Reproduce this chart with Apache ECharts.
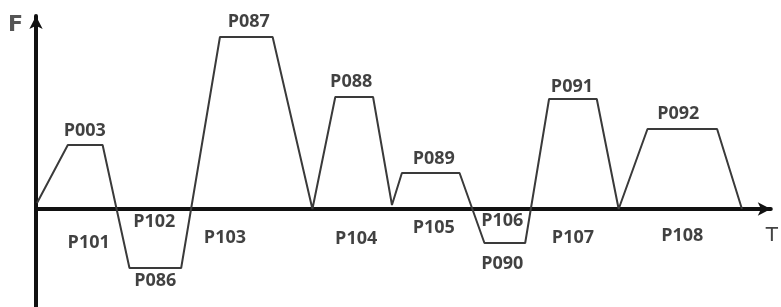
<!DOCTYPE html>
<html>
<head>
<meta charset="utf-8">
<script src="https://cdn.jsdelivr.net/npm/echarts@6/dist/echarts.min.js"></script>
<style>
  html, body { margin: 0; padding: 0; background: #fff; }
  #chart { width: 781px; height: 307px; }
</style>
</head>
<body>
<div id="chart"></div>
<script>
// feed profile vertices (T, F)
var profileT = [1, 32, 67, 94, 146, 185, 238, 278, 301, 339, 358, 368, 426, 451, 492, 516, 564, 586, 615, 685, 710];
var profileF = [6, 64, 64, -59, -59, 172, 172, 0, 112, 112, 4, 36, 36, -34, -34, 110, 110, 0, 80, 80, 0];

// segment labels and where they sit
var labelNames = ['P003', 'P101', 'P102', 'P086', 'P087', 'P088', 'P103', 'P104',
                  'P089', 'P105', 'P106', 'P090', 'P091', 'P107', 'P092', 'P108'];
var labelT = [49, 53, 119, 120, 214, 317, 190, 322, 400, 400, 469, 469, 539, 540, 646, 650];
var labelF = [78, -34, -13, -72, 187, 127, -29, -30, 50, -19, -12, -55, 122, -29, 95, -27];

var chart = echarts.init(document.getElementById('chart'));

var lineData = profileT.map(function (t, i) { return [t, profileF[i]]; });
var labelData = labelNames.map(function (n, i) { return [labelT[i], labelF[i], n]; });

var option = {
  animation: false,
  grid: { left: 36, right: 6, top: 16, bottom: 0 },
  xAxis: {
    type: 'value',
    min: 0,
    max: 739,
    name: 'T',
    nameLocation: 'end',
    nameGap: -5,
    nameTextStyle: {
      fontFamily: 'DejaVu Sans',
      fontSize: 20,
      color: '#444',
      align: 'left',
      verticalAlign: 'top',
      padding: [17, 0, 0, 0]
    },
    axisLine: {
      onZero: true,
      symbol: ['none', 'arrow'],
      symbolSize: [10, 13],
      lineStyle: { color: '#111', width: 4 }
    },
    axisTick: { show: false },
    axisLabel: { show: false },
    splitLine: { show: false }
  },
  yAxis: {
    type: 'value',
    min: -98,
    max: 193,
    name: 'F',
    nameLocation: 'end',
    nameGap: 2,
    nameTextStyle: {
      fontFamily: 'DejaVu Sans',
      fontSize: 22,
      fontWeight: 'bold',
      color: '#555',
      align: 'right',
      verticalAlign: 'top',
      padding: [0, 13, 0, 0]
    },
    axisLine: {
      show: true,
      symbol: ['none', 'arrow'],
      symbolSize: [10, 13],
      lineStyle: { color: '#111', width: 4 }
    },
    axisTick: { show: false },
    axisLabel: { show: false },
    splitLine: { show: false }
  },
  series: [
    {
      type: 'line',
      data: lineData,
      symbol: 'none',
      lineStyle: { color: '#3a3a3a', width: 2 },
      z: 3
    },
    {
      type: 'scatter',
      data: labelData,
      symbolSize: 0,
      silent: true,
      label: {
        show: true,
        position: 'inside',
        formatter: function (p) { return p.data[2]; },
        fontFamily: 'Open Sans',
        fontWeight: 'bold',
        fontSize: 18,
        color: '#111'
      },
      z: 4
    }
  ]
};

chart.setOption(option);
</script>
</body>
</html>
